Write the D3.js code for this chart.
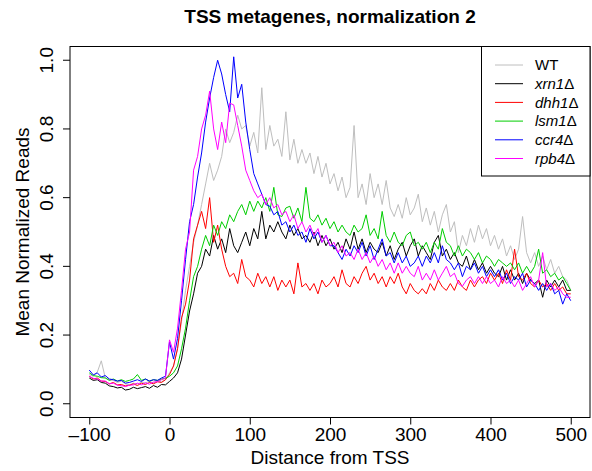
<!DOCTYPE html>
<html>
<head>
<meta charset="utf-8">
<script src="https://cdn.jsdelivr.net/npm/d3@7"></script>
<style>
  body { margin: 0; background: #fff; }
  text { font-family: "Liberation Sans", Arial, sans-serif; }
</style>
</head>
<body>
<div id="chart"></div>
<script>
// distance from TSS, one sample every 5 bp
var positions = d3.range(-100, 501, 5);

var wt = [0.085,0.08,0.092,0.125,0.075,0.07,0.068,0.062,0.066,0.058,0.055,0.06,0.057,0.063,0.06,0.066,0.06,0.068,0.064,0.07,0.09,
  0.11,0.16,0.24,0.33,0.40,0.47,0.52,0.58,0.64,0.70,0.65,0.68,0.72,0.80,0.76,0.79,0.84,0.80,0.81,0.75,
  0.79,0.73,0.92,0.74,0.81,0.75,0.77,0.72,0.85,0.71,0.77,0.70,0.74,0.70,0.73,0.67,0.72,0.66,0.70,0.64,
  0.67,0.62,0.66,0.60,0.63,0.81,0.60,0.64,0.58,0.67,0.60,0.64,0.58,0.65,0.57,0.545,0.58,0.54,0.60,0.55,
  0.57,0.61,0.53,0.57,0.52,0.56,0.50,0.55,0.58,0.50,0.53,0.44,0.49,0.46,0.51,0.47,0.52,0.48,0.51,0.46,
  0.49,0.45,0.48,0.43,0.46,0.42,0.45,0.545,0.44,0.41,0.44,0.40,0.43,0.39,0.42,0.38,0.40,0.37,0.36,0.33];

var xrn1 = [0.075,0.068,0.07,0.062,0.06,0.052,0.05,0.046,0.048,0.04,0.042,0.048,0.044,0.047,0.05,0.045,0.053,0.048,0.056,0.055,0.065,
  0.075,0.09,0.13,0.20,0.27,0.32,0.38,0.40,0.45,0.43,0.49,0.45,0.48,0.44,0.51,0.46,0.44,0.47,0.50,0.46,
  0.51,0.48,0.56,0.48,0.52,0.50,0.53,0.50,0.48,0.52,0.49,0.51,0.48,0.49,0.47,0.50,0.46,0.49,0.46,0.48,
  0.45,0.47,0.44,0.48,0.45,0.50,0.45,0.48,0.44,0.47,0.45,0.44,0.47,0.43,0.46,0.42,0.45,0.47,0.43,0.46,
  0.48,0.43,0.46,0.44,0.42,0.47,0.49,0.43,0.45,0.42,0.44,0.41,0.40,0.43,0.39,0.42,0.39,0.41,0.38,0.40,
  0.38,0.37,0.40,0.36,0.39,0.36,0.38,0.35,0.38,0.36,0.35,0.36,0.31,0.36,0.34,0.36,0.34,0.36,0.33,0.33];

var dhh1 = [0.08,0.072,0.075,0.066,0.065,0.058,0.062,0.055,0.056,0.052,0.054,0.058,0.053,0.06,0.056,0.062,0.058,0.064,0.062,0.07,0.085,
  0.11,0.16,0.25,0.29,0.36,0.48,0.52,0.56,0.51,0.60,0.47,0.52,0.45,0.40,0.37,0.38,0.35,0.42,0.37,0.36,
  0.34,0.38,0.35,0.37,0.34,0.37,0.33,0.36,0.34,0.36,0.32,0.41,0.34,0.35,0.33,0.35,0.32,0.36,0.34,0.35,
  0.37,0.34,0.39,0.35,0.34,0.37,0.35,0.38,0.40,0.36,0.38,0.35,0.37,0.34,0.37,0.35,0.38,0.34,0.32,0.35,
  0.33,0.32,0.335,0.32,0.35,0.33,0.36,0.34,0.33,0.35,0.33,0.36,0.34,0.33,0.36,0.34,0.36,0.37,0.35,0.38,
  0.36,0.38,0.35,0.39,0.36,0.45,0.37,0.36,0.38,0.35,0.34,0.36,0.34,0.35,0.33,0.35,0.33,0.34,0.32,0.32];

var lsm1 = [0.09,0.082,0.08,0.076,0.075,0.068,0.072,0.066,0.07,0.065,0.068,0.072,0.085,0.068,0.072,0.066,0.07,0.068,0.072,0.074,0.08,
  0.09,0.11,0.16,0.22,0.30,0.37,0.40,0.45,0.49,0.46,0.52,0.49,0.53,0.51,0.55,0.53,0.56,0.58,0.55,0.59,
  0.56,0.59,0.57,0.60,0.56,0.63,0.55,0.545,0.57,0.575,0.54,0.57,0.53,0.63,0.54,0.53,0.55,0.52,0.54,0.51,
  0.53,0.50,0.52,0.50,0.49,0.52,0.50,0.51,0.55,0.49,0.51,0.48,0.56,0.49,0.47,0.50,0.47,0.46,0.49,0.50,
  0.46,0.47,0.45,0.47,0.44,0.47,0.45,0.51,0.47,0.46,0.43,0.46,0.43,0.45,0.44,0.42,0.44,0.41,0.43,0.42,
  0.40,0.42,0.41,0.40,0.41,0.39,0.41,0.38,0.40,0.38,0.40,0.45,0.38,0.39,0.37,0.38,0.36,0.37,0.35,0.33];

var ccr4 = [0.098,0.084,0.09,0.078,0.082,0.072,0.07,0.066,0.068,0.06,0.062,0.066,0.07,0.065,0.072,0.066,0.07,0.068,0.075,0.08,0.18,
  0.13,0.19,0.30,0.42,0.53,0.58,0.66,0.73,0.82,0.89,0.95,1.0,0.96,0.90,0.85,1.01,0.89,0.93,0.82,0.74,
  0.67,0.64,0.61,0.58,0.575,0.55,0.56,0.52,0.53,0.50,0.52,0.49,0.50,0.47,0.51,0.48,0.50,0.47,0.49,0.46,
  0.46,0.44,0.42,0.45,0.43,0.46,0.44,0.47,0.43,0.46,0.42,0.45,0.48,0.43,0.44,0.41,0.44,0.41,0.43,0.40,
  0.41,0.43,0.40,0.43,0.41,0.44,0.41,0.46,0.42,0.41,0.39,0.41,0.37,0.40,0.39,0.41,0.38,0.40,0.37,0.39,
  0.37,0.39,0.36,0.38,0.35,0.37,0.36,0.38,0.34,0.36,0.35,0.33,0.35,0.33,0.35,0.32,0.33,0.29,0.32,0.30];

var rpb4 = [0.08,0.074,0.072,0.066,0.066,0.058,0.06,0.054,0.053,0.05,0.054,0.055,0.06,0.055,0.061,0.057,0.063,0.064,0.07,0.075,0.186,
  0.15,0.22,0.33,0.45,0.50,0.68,0.72,0.80,0.84,0.91,0.80,0.74,0.82,0.76,0.875,0.87,0.81,0.75,0.68,0.65,
  0.62,0.60,0.61,0.58,0.60,0.57,0.58,0.55,0.56,0.53,0.55,0.51,0.53,0.50,0.52,0.49,0.51,0.47,0.49,0.46,
  0.47,0.44,0.46,0.43,0.44,0.42,0.45,0.42,0.44,0.41,0.43,0.40,0.42,0.39,0.41,0.38,0.41,0.38,0.40,0.38,
  0.37,0.40,0.36,0.38,0.36,0.39,0.36,0.38,0.40,0.37,0.38,0.35,0.342,0.36,0.37,0.35,0.37,0.35,0.37,0.35,
  0.36,0.34,0.37,0.35,0.36,0.34,0.36,0.33,0.35,0.37,0.34,0.36,0.44,0.34,0.35,0.33,0.34,0.32,0.31,0.31];

var seriesNames = ["WT", "xrn1", "dhh1", "lsm1", "ccr4", "rpb4"];
var seriesValues = [wt, xrn1, dhh1, lsm1, ccr4, rpb4];
var seriesColors = ["#bebebe", "#000000", "#ff0000", "#00cd00", "#0000ff", "#ff00ff"];
var xTicks = [-100, 0, 100, 200, 300, 400, 500];
var yTicks = [0.0, 0.2, 0.4, 0.6, 0.8, 1.0];

var W = 592, H = 471;
var plot = { left: 70, right: 590, top: 46.5, bottom: 417.5 };

var svg = d3.select("#chart").append("svg")
  .attr("width", W)
  .attr("height", H);

var x = d3.scaleLinear().domain([-124, 524]).range([plot.left, plot.right]);
var y = d3.scaleLinear().domain([-0.04, 1.04]).range([plot.bottom, plot.top]);

// title
svg.append("text")
  .attr("x", (plot.left + plot.right) / 2)
  .attr("y", 23)
  .attr("text-anchor", "middle")
  .style("font-size", "19px")
  .style("font-weight", "bold")
  .text("TSS metagenes, normalization 2");

// lines, WT first so mutants sit on top
var line = d3.line()
  .x(function (d, i) { return x(positions[i]); })
  .y(function (d) { return y(d); });

svg.append("g")
  .selectAll("path")
  .data(seriesValues)
  .enter()
  .append("path")
  .attr("fill", "none")
  .attr("stroke", function (d, i) { return seriesColors[i]; })
  .attr("stroke-width", 1)
  .attr("stroke-linejoin", "round")
  .attr("d", line);

// x axis
var xAxis = svg.append("g")
  .attr("transform", "translate(0," + plot.bottom + ")")
  .call(d3.axisBottom(x).tickValues(xTicks).tickSize(7).tickPadding(3)
    .tickFormat(function (d) { return d < 0 ? "\u2013" + Math.abs(d) : d; }));
xAxis.select(".domain").remove();
xAxis.selectAll("text").style("font-size", "19px").attr("fill", "#000");

// y axis
var yAxis = svg.append("g")
  .attr("transform", "translate(" + plot.left + ",0)")
  .call(d3.axisLeft(y).tickValues(yTicks).tickSize(7).tickFormat(d3.format(".1f")));
yAxis.select(".domain").remove();
yAxis.selectAll("text")
  .style("font-size", "19px")
  .attr("fill", "#000")
  .attr("text-anchor", "middle")
  .attr("x", 0)
  .attr("dy", 0)
  .attr("transform", function (d) { return "translate(-17," + y(d) + ") rotate(-90)"; })
  .attr("y", 0);
yAxis.selectAll(".tick").attr("transform", null);
yAxis.selectAll(".tick line")
  .attr("y1", function (d) { return y(d); })
  .attr("y2", function (d) { return y(d); });

// plot box
svg.append("rect")
  .attr("x", plot.left)
  .attr("y", plot.top)
  .attr("width", plot.right - plot.left)
  .attr("height", plot.bottom - plot.top)
  .attr("fill", "none")
  .attr("stroke", "#000")
  .attr("stroke-width", 1);

// axis labels
svg.append("text")
  .attr("x", (plot.left + plot.right) / 2)
  .attr("y", 464)
  .attr("text-anchor", "middle")
  .style("font-size", "19px")
  .text("Distance from TSS");

svg.append("text")
  .attr("transform", "translate(29," + (plot.top + plot.bottom) / 2 + ") rotate(-90)")
  .attr("text-anchor", "middle")
  .style("font-size", "19px")
  .text("Mean Normalized Reads");

// legend
var legend = svg.append("g");
legend.append("rect")
  .attr("x", 481.5)
  .attr("y", plot.top)
  .attr("width", plot.right - 481.5)
  .attr("height", 129.5)
  .attr("fill", "#fff")
  .attr("stroke", "#000");

var rows = legend.selectAll(".row")
  .data(seriesNames)
  .enter()
  .append("g")
  .attr("transform", function (d, i) { return "translate(0," + (65 + i * 18.7) + ")"; });

rows.append("line")
  .attr("x1", 495).attr("x2", 523)
  .attr("stroke", function (d, i) { return seriesColors[i]; });

var labels = rows.append("text")
  .attr("x", 535)
  .attr("dy", "0.35em")
  .style("font-size", "15px");
labels.append("tspan")
  .style("font-style", function (d) { return d === "WT" ? "normal" : "italic"; })
  .text(function (d) { return d; });
labels.append("tspan")
  .text(function (d) { return d === "WT" ? "" : "\u0394"; });
</script>
</body>
</html>
